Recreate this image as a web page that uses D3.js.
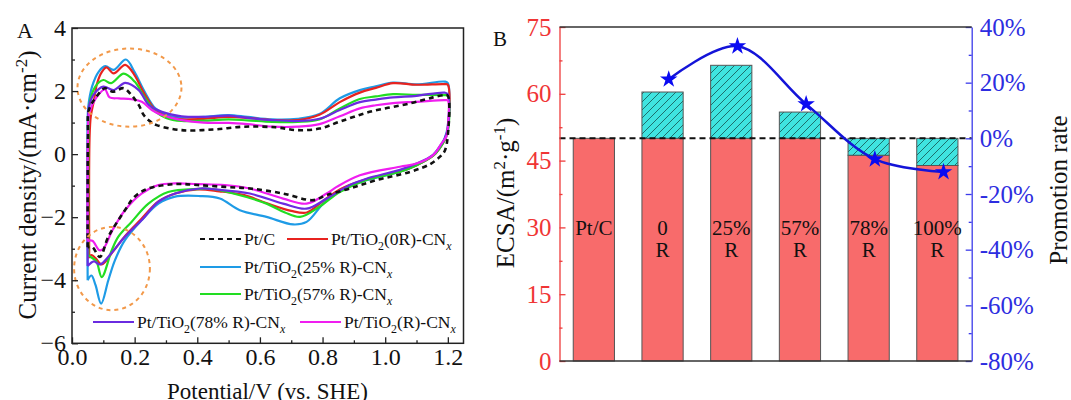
<!DOCTYPE html>
<html>
<head>
<meta charset="utf-8">
<script src="https://cdn.jsdelivr.net/npm/d3@7"></script>
<style>
	body { margin: 0; background: #fff; }
	svg { display: block; font-family: "Liberation Serif", "Times New Roman", serif; }
</style>
</head>
<body>
<svg width="1071" height="400"></svg>
<script>
// ---------- panel A : CV loops, [potential V, current density mA/cm2], anodic then cathodic
const cvPtC = [[0.05,-2.95],[0.051,0.5],[0.054,1.4],[0.08,1.85],[0.105,2.09],[0.13,1.98],[0.165,2.09],[0.19,1.87],[0.213,1.56],[0.229,1.24],[0.25,1.03],[0.27,0.92],[0.35,0.76],[0.45,0.78],[0.55,0.87],[0.65,0.85],[0.72,0.76],[0.79,0.81],[0.855,1.03],[0.95,1.34],[1.08,1.61],[1.153,1.8],[1.19,1.87],[1.2,1.85],
	[1.2,0.6],[1.19,0.1],[1.175,-0.08],[1.143,-0.32],[1.08,-0.56],[0.97,-0.83],[0.887,-1.09],[0.813,-1.3],[0.77,-1.46],[0.674,-1.25],[0.568,-1.09],[0.488,-1.04],[0.4,-0.98],[0.329,-0.95],[0.244,-1.09],[0.2,-1.35],[0.169,-1.78],[0.116,-2.62],[0.089,-3.26],[0.065,-2.95],[0.05,-2.95]];
const cv0R = [[0.055,-3.3],[0.056,0.5],[0.06,1.2],[0.07,1.7],[0.08,2.24],[0.095,2.6],[0.11,2.75],[0.133,2.56],[0.17,2.83],[0.2,2.5],[0.229,1.95],[0.266,1.4],[0.3,1.2],[0.35,1.1],[0.42,1.12],[0.5,1.18],[0.56,1.15],[0.64,1.08],[0.72,1.08],[0.79,1.25],[0.855,1.65],[0.919,1.95],[0.97,2.1],[1.025,2.25],[1.1,2.2],[1.19,2.22],[1.2,2.2],
	[1.2,0.8],[1.19,0.45],[1.175,0.2],[1.153,-0.05],[1.1,-0.35],[1.047,-0.55],[0.94,-0.8],[0.855,-1.12],[0.8,-1.5],[0.75,-1.85],[0.7,-1.8],[0.62,-1.55],[0.55,-1.3],[0.47,-1.18],[0.4,-1.12],[0.33,-1.25],[0.276,-1.5],[0.222,-2.05],[0.169,-2.6],[0.13,-3.1],[0.095,-3.5],[0.075,-3.3],[0.062,-3.2],[0.055,-3.3]];
const cv25R = [[0.05,-4.0],[0.05,1.0],[0.052,1.5],[0.064,2.14],[0.085,2.61],[0.106,2.79],[0.133,2.67],[0.172,3.0],[0.2,2.6],[0.229,2.03],[0.266,1.45],[0.3,1.25],[0.35,1.16],[0.42,1.18],[0.5,1.24],[0.56,1.18],[0.64,1.1],[0.72,1.12],[0.79,1.27],[0.855,1.77],[0.919,2.03],[0.97,2.15],[1.025,2.27],[1.1,2.21],[1.19,2.3],[1.2,2.25],
	[1.2,0.9],[1.19,0.5],[1.175,0.25],[1.153,-0.03],[1.1,-0.35],[1.047,-0.56],[0.94,-0.83],[0.855,-1.14],[0.802,-1.57],[0.749,-2.15],[0.706,-2.23],[0.621,-1.99],[0.536,-1.78],[0.472,-1.41],[0.408,-1.33],[0.329,-1.35],[0.276,-1.57],[0.222,-2.1],[0.169,-2.73],[0.137,-3.37],[0.116,-4.0],[0.093,-4.74],[0.075,-4.15],[0.062,-3.85],[0.05,-4.0]];
const cv57R = [[0.052,-3.2],[0.053,0.8],[0.056,1.6],[0.075,2.15],[0.1,2.35],[0.125,2.25],[0.165,2.55],[0.2,2.3],[0.229,1.85],[0.266,1.35],[0.3,1.15],[0.35,1.05],[0.42,1.06],[0.5,1.1],[0.56,1.07],[0.64,1.02],[0.72,1.02],[0.79,1.1],[0.855,1.45],[0.919,1.75],[0.97,1.83],[1.025,1.9],[1.1,1.88],[1.19,1.87],[1.2,1.85],
	[1.2,0.7],[1.19,0.45],[1.175,0.2],[1.153,-0.05],[1.1,-0.35],[1.047,-0.56],[0.94,-0.82],[0.855,-1.2],[0.79,-1.67],[0.728,-1.99],[0.68,-1.85],[0.621,-1.57],[0.515,-1.25],[0.435,-1.09],[0.408,-1.1],[0.307,-1.2],[0.244,-1.57],[0.19,-2.15],[0.148,-2.62],[0.127,-3.05],[0.095,-3.9],[0.078,-3.4],[0.065,-3.3],[0.052,-3.2]];
const cv78R = [[0.05,-3.55],[0.051,0.8],[0.054,1.5],[0.07,1.9],[0.1,2.14],[0.133,2.03],[0.17,2.26],[0.213,2.03],[0.245,1.56],[0.287,1.34],[0.35,1.2],[0.42,1.18],[0.5,1.22],[0.56,1.15],[0.64,1.08],[0.72,1.05],[0.79,1.12],[0.855,1.4],[0.919,1.65],[0.97,1.73],[1.025,1.8],[1.1,1.85],[1.19,1.95],[1.2,1.9],
	[1.2,0.8],[1.19,0.5],[1.175,0.25],[1.153,-0.02],[1.1,-0.3],[1.047,-0.5],[0.94,-0.78],[0.887,-0.98],[0.813,-1.41],[0.749,-1.73],[0.674,-1.57],[0.568,-1.25],[0.46,-1.12],[0.408,-1.09],[0.329,-1.25],[0.276,-1.51],[0.222,-2.1],[0.169,-2.62],[0.125,-3.15],[0.089,-3.5],[0.07,-3.4],[0.05,-3.55]];
const cvR = [[0.05,-2.75],[0.051,0.5],[0.055,1.3],[0.075,1.75],[0.105,2.05],[0.12,1.8],[0.15,1.77],[0.19,1.74],[0.223,1.66],[0.255,1.4],[0.287,1.24],[0.351,1.08],[0.42,1.0],[0.5,0.99],[0.56,0.95],[0.64,0.87],[0.72,0.87],[0.79,0.95],[0.855,1.2],[0.919,1.45],[0.97,1.55],[1.025,1.62],[1.1,1.66],[1.19,1.71],[1.2,1.7],
	[1.2,0.9],[1.195,0.55],[1.18,0.34],[1.153,-0.03],[1.1,-0.3],[1.047,-0.4],[0.919,-0.67],[0.845,-1.04],[0.813,-1.25],[0.749,-1.57],[0.674,-1.41],[0.568,-1.09],[0.488,-0.98],[0.4,-0.95],[0.329,-0.93],[0.276,-0.98],[0.222,-1.25],[0.169,-1.78],[0.13,-2.4],[0.1,-3.0],[0.088,-3.05],[0.065,-2.75],[0.05,-2.75]];

const cvSeries = [cv25R, cv0R, cv57R, cv78R, cvR, cvPtC];
const cvColors = ['#1e9be6', '#e8231f', '#22dd22', '#6a2be0', '#f01ef0', '#111'];
const cvDash = [null, null, null, null, null, '5,4'];

const xTicksA = [0, 0.2, 0.4, 0.6, 0.8, 1.0, 1.2];
const yTicksA = [-6, -4, -2, 0, 2, 4];

// ---------- panel B
const categories = ['Pt/C', '0 R', '25% R', '57% R', '78% R', '100% R'];
const barLabels = [['Pt/C'], ['0', 'R'], ['25%', 'R'], ['57%', 'R'], ['78%', 'R'], ['100%', 'R']];
const ecsa = [50, 60.4, 66.4, 55.9, 46.2, 43.9];
const ecsaRef = 50;
const promoCats = ['0 R', '25% R', '57% R', '78% R', '100% R'];
const promotion = [21.2, 33.1, 12.3, -7.5, -12.1];

const svg = d3.select('svg');
const font = '"Liberation Serif", "Times New Roman", serif';

function richText(sel, parts) {
	let shift = 0;
	parts.forEach(p => {
		let want = p.sub ? 5 : p.sup ? -9 : 0;
		let t = sel.append('tspan').text(p.t).attr('dy', want - shift);
		shift = want;
		if (p.sub || p.sup) t.attr('font-size', '68%');
		if (p.i) t.attr('font-style', 'italic');
	});
}

// ================= panel A =================
const xA = d3.scaleLinear().domain([0, 1.25]).range([72, 463.5]);
const yA = d3.scaleLinear().domain([-6, 4]).range([343.3, 28]);
const gA = svg.append('g');

let lineA = d3.line().x(d => xA(d[0])).y(d => yA(d[1])).curve(d3.curveCatmullRom.alpha(0.5));

gA.selectAll('path.cv')
	.data(cvSeries)
	.enter().append('path')
	.attr('class', 'cv')
	.attr('d', lineA)
	.attr('fill', 'none')
	.attr('stroke', (d, i) => cvColors[i])
	.attr('stroke-width', (d, i) => i === 5 ? 2.6 : 2.2)
	.attr('stroke-dasharray', (d, i) => cvDash[i]);

// dashed orange highlight ellipses
[[0.1835, 2.11, 0.166, 1.24], [0.1277, -3.63, 0.121, 1.32]].forEach(e => {
	gA.append('ellipse')
		.attr('cx', xA(e[0])).attr('cy', yA(e[1]))
		.attr('rx', xA(e[2]) - xA(0)).attr('ry', yA(0) - yA(e[3]))
		.attr('fill', 'none').attr('stroke', '#f2994a')
		.attr('stroke-width', 2).attr('stroke-dasharray', '4,4');
});

// axes
let axAx = gA.append('g').attr('transform', 'translate(0,343.3)')
	.call(d3.axisBottom(xA).tickValues(xTicksA).tickSizeInner(-6).tickSizeOuter(0).tickPadding(5).tickFormat(d3.format('.1f')));
gA.append('g').attr('transform', 'translate(0,343.3)')
	.call(d3.axisBottom(xA).tickValues([0.1, 0.3, 0.5, 0.7, 0.9, 1.1]).tickSize(-3).tickFormat(''));
let axAy = gA.append('g').attr('transform', 'translate(72,0)')
	.call(d3.axisLeft(yA).tickValues(yTicksA).tickSizeInner(-6).tickSizeOuter(0).tickPadding(6));
gA.append('g').attr('transform', 'translate(72,0)')
	.call(d3.axisLeft(yA).tickValues([-5, -3, -1, 1, 3]).tickSize(-3).tickFormat(''));
gA.selectAll('.domain').remove();
gA.selectAll('.tick line').attr('stroke', '#222').attr('stroke-width', 1.3);
axAx.selectAll('text').attr('font-size', 24).attr('font-family', font).attr('fill', '#111');
axAy.selectAll('text').attr('font-size', 24).attr('font-family', font).attr('fill', '#111');

gA.append('rect').attr('x', 72).attr('y', 28).attr('width', 463.5 - 72).attr('height', 343.3 - 28)
	.attr('fill', 'none').attr('stroke', '#222').attr('stroke-width', 1.5);

// legend
const legendNames = [
	[{t: 'Pt/TiO'}, {t: '2', sub: 1}, {t: '(25% R)-CN'}, {t: 'x', sub: 1, i: 1}],
	[{t: 'Pt/TiO'}, {t: '2', sub: 1}, {t: '(0R)-CN'}, {t: 'x', sub: 1, i: 1}],
	[{t: 'Pt/TiO'}, {t: '2', sub: 1}, {t: '(57% R)-CN'}, {t: 'x', sub: 1, i: 1}],
	[{t: 'Pt/TiO'}, {t: '2', sub: 1}, {t: '(78% R)-CN'}, {t: 'x', sub: 1, i: 1}],
	[{t: 'Pt/TiO'}, {t: '2', sub: 1}, {t: '(R)-CN'}, {t: 'x', sub: 1, i: 1}],
	[{t: 'Pt/C'}]
];
const legendPos = [[200, 267], [287, 239], [200, 294], [93, 322], [300, 322], [200, 239]];
legendPos.forEach((p, i) => {
	gA.append('line').attr('x1', p[0]).attr('x2', p[0] + 41).attr('y1', p[1]).attr('y2', p[1])
		.attr('stroke', cvColors[i]).attr('stroke-width', 2.2).attr('stroke-dasharray', cvDash[i]);
	let t = gA.append('text').attr('x', p[0] + 44).attr('y', p[1] + 6)
		.attr('font-size', 17.5).attr('fill', '#111');
	richText(t, legendNames[i]);
});

// titles
let tyA = svg.append('text').attr('transform', 'translate(36,185) rotate(-90)')
	.attr('text-anchor', 'middle').attr('font-size', 25).attr('fill', '#111');
richText(tyA, [{t: 'Current density/(mA·cm'}, {t: '-2', sup: 1}, {t: ')'}]);
svg.append('text').attr('x', 267.5).attr('y', 399).attr('text-anchor', 'middle')
	.attr('font-size', 23).attr('fill', '#111').text('Potential/V  (vs. SHE)');
svg.append('text').attr('x', 17).attr('y', 38).attr('font-size', 22).attr('fill', '#111').text('A');

// ================= panel B =================
const xB = d3.scaleBand().domain(categories).range([559.5, 971.7]).paddingInner(0.4).paddingOuter(0.2);
const yL = d3.scaleLinear().domain([0, 75]).range([361, 27]);
const yR = d3.scaleLinear().domain([-80, 40]).range([361, 27]);
const gB = svg.append('g');

const defs = svg.append('defs');
let pat = defs.append('pattern').attr('id', 'hatch').attr('patternUnits', 'userSpaceOnUse')
	.attr('width', 8).attr('height', 8);
pat.append('rect').attr('width', 8).attr('height', 8).attr('fill', '#3fe4e0');
pat.append('path').attr('d', 'M-2,2 l4,-4 M0,8 l8,-8 M6,10 l4,-4')
	.attr('stroke', '#1d6f6c').attr('stroke-width', 1);

// red base part (up to Pt/C level)
gB.selectAll('rect.base')
	.data(ecsa)
	.enter().append('rect')
	.attr('class', 'base')
	.attr('x', (d, i) => xB(categories[i]))
	.attr('width', xB.bandwidth())
	.attr('y', d => yL(Math.min(d, ecsaRef)))
	.attr('height', d => yL(0) - yL(Math.min(d, ecsaRef)))
	.attr('fill', '#f86b6b').attr('stroke', '#555').attr('stroke-width', 1);

// hatched difference part
gB.selectAll('rect.diff')
	.data(ecsa.map((d, i) => ({d, i})).filter(o => o.d !== ecsaRef))
	.enter().append('rect')
	.attr('class', 'diff')
	.attr('x', o => xB(categories[o.i]))
	.attr('width', xB.bandwidth())
	.attr('y', o => yL(Math.max(o.d, ecsaRef)))
	.attr('height', o => Math.abs(yL(o.d) - yL(ecsaRef)))
	.attr('fill', 'url(#hatch)').attr('stroke', '#555').attr('stroke-width', 1);

// reference dashed line
gB.append('line').attr('x1', 559.5).attr('x2', 971.7).attr('y1', yL(ecsaRef)).attr('y2', yL(ecsaRef))
	.attr('stroke', '#111').attr('stroke-width', 2).attr('stroke-dasharray', '6,4');

// labels inside bars
barLabels.forEach((lines, i) => {
	lines.forEach((s, k) => {
		gB.append('text').attr('x', xB(categories[i]) + xB.bandwidth() / 2).attr('y', 235 + k * 22)
			.attr('text-anchor', 'middle').attr('font-size', 21).attr('fill', '#111').text(s);
	});
});

// axes
let axL = gB.append('g').attr('transform', 'translate(559.5,0)')
	.call(d3.axisLeft(yL).tickValues(d3.range(0, 76, 15)).tickSizeInner(-6).tickSizeOuter(0).tickPadding(8));
let axLm = gB.append('g').attr('transform', 'translate(559.5,0)')
	.call(d3.axisLeft(yL).tickValues(d3.range(7.5, 75, 15)).tickSize(-3).tickFormat(''));
axLm.select('.domain').remove();
[axL, axLm].forEach(a => {
	a.selectAll('line, path').attr('stroke', '#ee3b3b').attr('stroke-width', 1.3);
});
axL.selectAll('text').attr('font-size', 25).attr('font-family', font).attr('fill', '#f03535');

let axR = gB.append('g').attr('transform', 'translate(971.7,0)')
	.call(d3.axisRight(yR).tickValues(d3.range(-80, 41, 20)).tickSizeInner(-6).tickSizeOuter(0).tickPadding(8).tickFormat(d => d + '%'));
let axRm = gB.append('g').attr('transform', 'translate(971.7,0)')
	.call(d3.axisRight(yR).tickValues(d3.range(-70, 40, 20)).tickSize(-3).tickFormat(''));
axRm.select('.domain').remove();
[axR, axRm].forEach(a => {
	a.selectAll('line, path').attr('stroke', '#3b3bea').attr('stroke-width', 1.3);
});
axR.selectAll('text').attr('font-size', 25).attr('font-family', font).attr('fill', '#2d2de0');

gB.append('line').attr('x1', 559.5).attr('x2', 971.7).attr('y1', 27).attr('y2', 27).attr('stroke', '#333').attr('stroke-width', 1.3);
gB.append('line').attr('x1', 559.5).attr('x2', 971.7).attr('y1', 361).attr('y2', 361).attr('stroke', '#333').attr('stroke-width', 1.5);

// promotion rate curve and stars
let starX = c => xB(c) + xB.bandwidth() * 0.65;
let promoLine = d3.line().x((d, i) => starX(promoCats[i])).y(d => yR(d)).curve(d3.curveCatmullRom.alpha(0.5));
gB.append('path').datum(promotion).attr('d', promoLine)
	.attr('fill', 'none').attr('stroke', '#1414d8').attr('stroke-width', 2.5);
gB.selectAll('path.star')
	.data(promotion)
	.enter().append('path')
	.attr('class', 'star')
	.attr('d', d3.symbol(d3.symbolStar, 95))
	.attr('transform', (d, i) => 'translate(' + starX(promoCats[i]) + ',' + yR(d) + ')')
	.attr('fill', '#0a0af2');

// titles
let tyL = svg.append('text').attr('transform', 'translate(514,193) rotate(-90)')
	.attr('text-anchor', 'middle').attr('font-size', 25).attr('fill', '#111');
richText(tyL, [{t: 'ECSA/(m'}, {t: '2', sup: 1}, {t: '·g'}, {t: '-1', sup: 1}, {t: ')'}]);
svg.append('text').attr('transform', 'translate(1067,190) rotate(-90)')
	.attr('text-anchor', 'middle').attr('font-size', 25).attr('fill', '#111').text('Promotion rate');
svg.append('text').attr('x', 493).attr('y', 46).attr('font-size', 21).attr('fill', '#111').text('B');
</script>
</body>
</html>
